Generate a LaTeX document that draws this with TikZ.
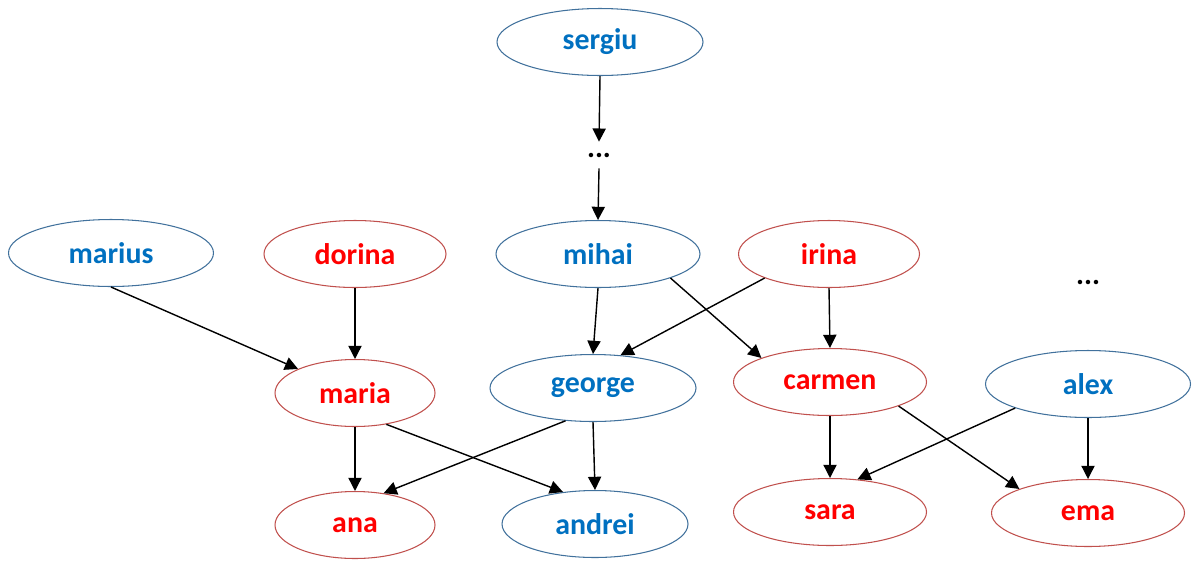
\documentclass[tikz,border=0pt]{standalone}
\usepackage{fontspec}
\setmainfont{Carlito}
\usepackage{xcolor}
\usepackage{tikz}
\usetikzlibrary{shapes.geometric}
\usetikzlibrary{arrows.meta}
\definecolor{mblue}{HTML}{0070C0}
\definecolor{mblueline}{HTML}{41719C}
\definecolor{fred}{HTML}{FF0000}
\definecolor{fredline}{HTML}{C0504D}
\tikzstyle{person}=[ellipse,line width=0.6pt,inner sep=0pt,minimum height=1.34cm,font=\fontsize{17}{20}\selectfont\bfseries]
\tikzstyle{male}=[person,draw=mblueline,text=mblue]
\tikzstyle{female}=[person,draw=fredline,text=fred]
\tikzstyle{more}=[inner sep=0pt,minimum height=0.52cm,font=\fontsize{17}{20}\selectfont\bfseries]
\tikzstyle{edge} = [draw,line width=0.8pt,-{Triangle[length=7.5pt,width=7.5pt]}]

\begin{document}
\begin{tikzpicture}

  \def\u{0.02};
  \useasboundingbox (0,0) rectangle (1192*\u,-560*\u);

   \foreach \x/\y/\name/\w in {600/42/sergiu/206, 111/253/marius/205, 598/254/mihai/204, 593/388/george/206, 1088/384/alex/205, 595/524/andrei/186}
          \node[male,minimum width=\w*\u cm] (\name) at (\x*\u, -\y*\u) {\name};

   \foreach \x/\y/\name/\w in {355/254/dorina/182, 355/393/maria/160, 829/254/irina/181, 830/382/carmen/193, 355/525/ana/160, 830/512/sara/193, 1088/513/ema/193}
          \node[female,minimum width=\w*\u cm] (\name) at (\x*\u, -\y*\u) {\name};

  \node[more] (dotsa) at (599*\u,-155*\u) {...};
  \node[more] (dotsb) at (1088*\u,-282*\u) {...};

  \foreach \source/ \dest in {sergiu.south/dotsa.north, dotsa.south/mihai.north, marius.south/maria.north west, dorina.south/maria.north, mihai.south/george.north, mihai.south east/carmen.north west, irina.south west/george.50, irina.south/carmen.north}
         \path[edge] (\source) -- (\dest);

  \foreach \source/ \dest in {maria.south/ana.north, maria.-45/andrei.135, george.-130/ana.48, george.south/andrei.north, carmen.south/sara.north, carmen.south east/ema.north west, alex.south west/sara.50, alex.south/ema.north}
         \path[edge] (\source) -- (\dest);

\end{tikzpicture}
\end{document}
